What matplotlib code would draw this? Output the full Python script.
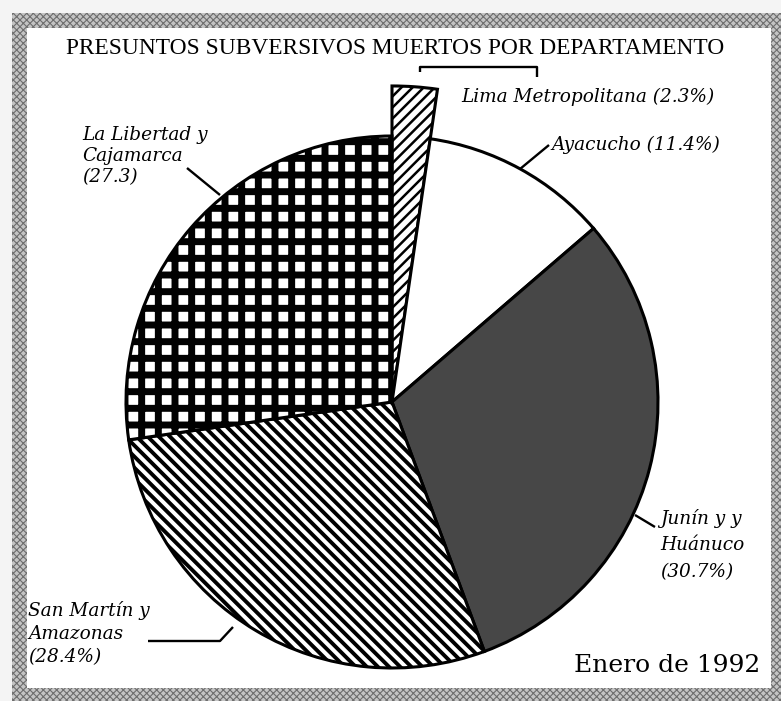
import matplotlib
matplotlib.use("Agg")
import matplotlib.pyplot as plt
from matplotlib.patches import Rectangle

# figure size in pixels (1 data unit = 1 pixel)
W, H = 781, 701

# data
regions = ["Lima Metropolitana", "Ayacucho", "Junín y Huánuco",
           "San Martín y Amazonas", "La Libertad y Cajamarca"]
shares = [2.3, 11.4, 30.7, 28.4, 27.3]
labels = ["Lima Metropolitana (2.3%)",
          "Ayacucho (11.4%)",
          "Junín y y\nHuánuco\n(30.7%)",
          "San Martín y\nAmazonas\n(28.4%)",
          "La Libertad y\nCajamarca\n(27.3)"]
title = "PRESUNTOS SUBVERSIVOS MUERTOS POR DEPARTAMENTO"
date_note = "Enero de 1992"

# styles
faces = ["white", "white", "#474747", "white", "white"]
hatches = ["///", None, None, "\\\\\\", "+"]
hatch_widths = [1.8, 1.0, 1.0, 2.8, 5.0]
explode = [0.03, 0, 0, 0, 0]


def iy(y):
    """image row -> data y"""
    return H - y


fig = plt.figure(figsize=(W / 100, H / 100), dpi=100)
fig.patch.set_facecolor("#f4f4f4")
ax = fig.add_axes([0, 0, 1, 1])

# scanned frame
frame = Rectangle((12, -20), W + 20, iy(13) + 20, facecolor="#c4c4c4",
                  edgecolor="#6e6e6e", linewidth=0, hatch="xxxxx", zorder=0)
if hasattr(frame, "set_hatch_linewidth"):
    frame.set_hatch_linewidth(0.8)
ax.add_patch(frame)
ax.add_patch(Rectangle((27, iy(688)), 771 - 27, 688 - 28,
                       facecolor="white", edgecolor="none", zorder=0.5))

wedges, _ = ax.pie(shares, radius=266, center=(392, iy(402)), startangle=90,
                   counterclock=False, explode=explode, colors=faces,
                   wedgeprops=dict(edgecolor="black", linewidth=2.2))
for w, h, hw in zip(wedges, hatches, hatch_widths):
    if h:
        w.set_hatch(h)
        if hasattr(w, "set_hatch_linewidth"):
            w.set_hatch_linewidth(hw)
# Lima slice is drawn longer than the others
wedges[0].set_radius(316)

ax.set_xlim(0, W)
ax.set_ylim(0, H)
ax.set_aspect("equal")
ax.axis("off")

serif = "DejaVu Serif"
ax.text(395, iy(48), title, fontsize=16.8, family="Liberation Serif",
        ha="center", va="center")

lab_kw = dict(family=serif, style="italic", fontsize=13.3, ha="left")
ax.text(461, iy(97), labels[0], va="center", **lab_kw)
ax.text(551, iy(145), labels[1], va="center", **lab_kw)
ax.text(660, iy(509), labels[2], va="top", linespacing=1.6, **lab_kw)
ax.text(28, iy(601), labels[3], va="top", linespacing=1.35, **lab_kw)
ax.text(82, iy(126), labels[4], va="top", linespacing=1.2, **lab_kw)

ax.text(760, iy(665), date_note, family=serif, fontsize=18,
        ha="right", va="center")

# leader lines and bracket
lk = dict(color="black", linewidth=1.7, solid_capstyle="butt")
ax.plot([420, 420, 537, 537], [iy(72), iy(67), iy(67), iy(77)], **lk)
ax.plot([549, 520], [iy(145), iy(169)], **lk)
ax.plot([635, 655], [iy(515), iy(527)], **lk)
ax.plot([148, 220, 233], [iy(641), iy(641), iy(627)], **lk)
ax.plot([187, 220], [iy(168), iy(195)], **lk)

fig.savefig("out.png", dpi=100)
